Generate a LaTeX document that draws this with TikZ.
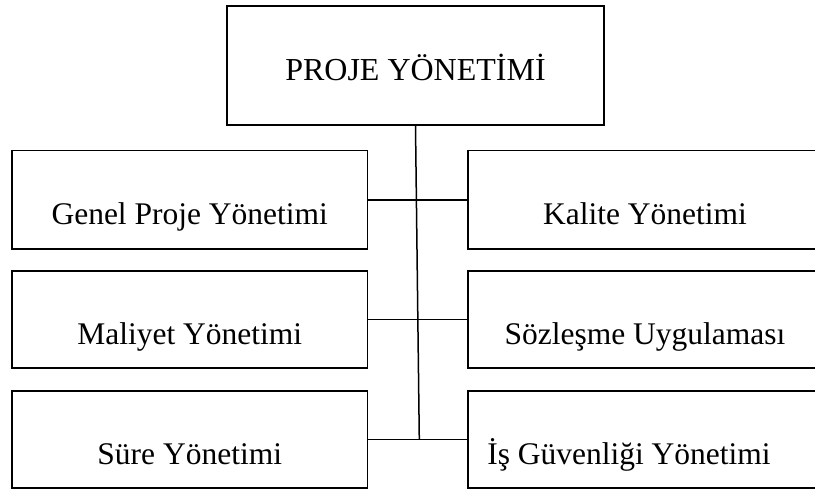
\documentclass[tikz,border=0pt]{standalone}
\usepackage{fontspec}
\setmainfont{Liberation Serif}
\begin{document}
\begin{tikzpicture}[x=1pt,y=-1pt,
  conn/.style={line width=1.5pt},
  topbox/.style={draw,line width=1.5pt,rectangle,inner sep=0pt,
    minimum width=377pt,minimum height=119pt,
    text height=29pt,text depth=0pt,
    font=\fontsize{32}{36}\selectfont},
  leftbox/.style={draw,line width=1.5pt,rectangle,inner sep=0pt,
    minimum width=355.5pt,minimum height=97pt,
    text height=50pt,text depth=0pt,
    font=\fontsize{31.5}{36}\selectfont},
  rightbox/.style={leftbox,minimum width=354pt}]
\path[use as bounding box,clip] (0,0) rectangle (815,491);
\node[topbox] (top) at (415.5,65.5) {PROJE YÖNETİMİ};
\node[leftbox,minimum height=98.5pt] (gp) at (189.75,199.75) {Genel Proje Yönetimi};
\node[leftbox] (mal) at (189.75,319.5) {Maliyet Yönetimi};
\node[leftbox] (sur) at (189.75,439.5) {Süre Yönetimi};
\node[rightbox,minimum height=98.5pt] (kal) at (645,199.75) {Kalite Yönetimi};
\node[rightbox] (soz) at (645,319.5) {Sözleşme Uygulaması};
\node[rightbox] (isg) at (645,439.5) {\kern-32pt İş Güvenliği Yönetimi};
\coordinate (bot) at (419.3,439.5);
\draw[conn] (top.south) -- (bot);
\draw[conn] (gp.east) -- (kal.west);
\draw[conn] (mal.east) -- (soz.west);
\draw[conn] (sur.east) -- (isg.west);
\end{tikzpicture}
\end{document}
